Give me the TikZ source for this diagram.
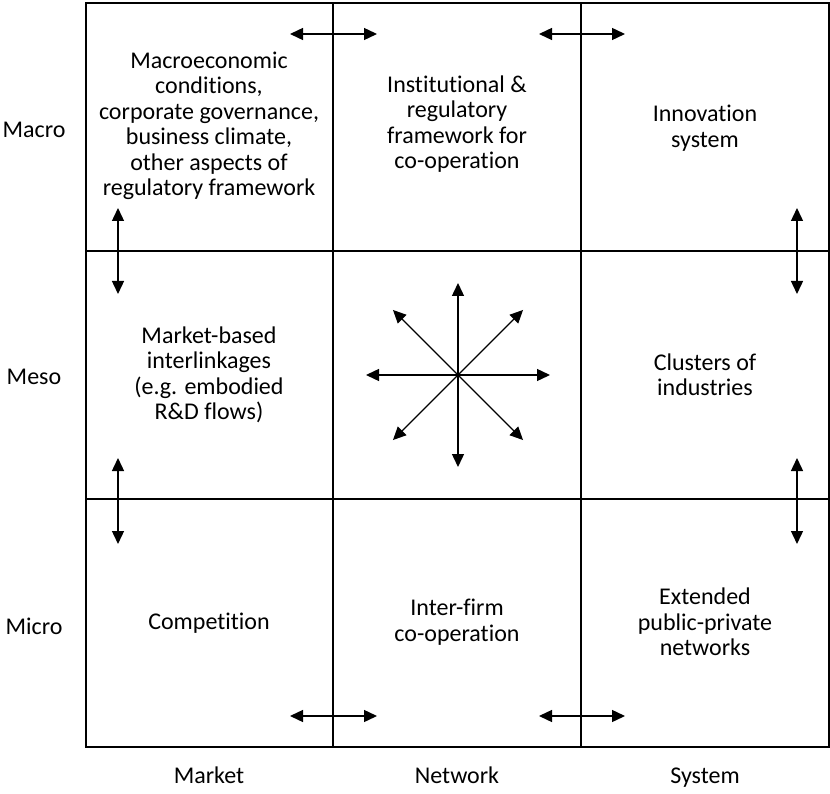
\documentclass[tikz,border=0pt]{standalone}
\usepackage{fontspec}
\setmainfont{Carlito}[Ligatures=CommonOff]
\usetikzlibrary{arrows.meta}
\begin{document}
\begin{tikzpicture}[x=1pt,y=-1pt,
  grid/.style={line width=2pt},
  dbl/.style={line width=1.4pt,{Triangle[length=13pt,width=12pt]}-{Triangle[length=13pt,width=12pt]}},
  one/.style={line width=1.4pt,-{Triangle[length=13pt,width=12pt]}},
  celltext/.style={align=center,font=\fontsize{24}{25.5}\selectfont,inner sep=0pt},
  axis/.style={font=\fontsize{24}{25.5}\selectfont,inner sep=0pt}]
\useasboundingbox (0,0) rectangle (830,794);
% grid
\draw[grid] (86,3) rectangle (829,747);
\draw[grid] (333,3) -- (333,747);
\draw[grid] (581,3) -- (581,747);
\draw[grid] (86,251) -- (829,251);
\draw[grid] (86,499) -- (829,499);
% row labels
\node[axis] (macro) at (34,130) {Macro};
\node[axis] (meso) at (34,377) {Meso};
\node[axis] (micro) at (34,626) {Micro};
% column labels
\node[axis,anchor=base] (market) at (209,783) {Market};
\node[axis,anchor=base] (network) at (457,783) {Network};
\node[axis,anchor=base] (system) at (705,783) {System};
% cell texts
\node[celltext] (c11) at (209,126) {Macroeconomic\\conditions,\\corporate governance,\\business climate,\\other aspects of\\regulatory framework};
\node[celltext] (c12) at (457,124) {Institutional \&\\regulatory\\framework for\\co-operation};
\node[celltext] (c13) at (705,128) {Innovation\\system};
\node[celltext] (c21) at (209,375) {Market-based\\interlinkages\\(e.g. embodied\\R\&D flows)};
\node[celltext] (c23) at (705,375) {Clusters of\\industries};
\node[celltext] (c31) at (209,623) {Competition};
\node[celltext] (c32) at (457,622) {Inter-firm\\co-operation};
\node[celltext] (c33) at (705,622) {Extended\\public-private\\networks};
% horizontal double arrows
\coordinate (ha1) at (290,34); \coordinate (hb1) at (377,34);
\coordinate (ha2) at (539,34); \coordinate (hb2) at (625,34);
\coordinate (ha3) at (290,716); \coordinate (hb3) at (377,716);
\coordinate (ha4) at (539,716); \coordinate (hb4) at (625,716);
\draw[dbl] (ha1) -- (hb1);
\draw[dbl] (ha2) -- (hb2);
\draw[dbl] (ha3) -- (hb3);
\draw[dbl] (ha4) -- (hb4);
% vertical double arrows
\coordinate (va1) at (118,208); \coordinate (vb1) at (118,294);
\coordinate (va2) at (118,458); \coordinate (vb2) at (118,544);
\coordinate (va3) at (797,208); \coordinate (vb3) at (797,294);
\coordinate (va4) at (797,458); \coordinate (vb4) at (797,544);
\draw[dbl] (va1) -- (vb1);
\draw[dbl] (va2) -- (vb2);
\draw[dbl] (va3) -- (vb3);
\draw[dbl] (va4) -- (vb4);
% star
\coordinate (ctr) at (458,375);
\foreach \a in {0,45,...,315} {
  \coordinate (s\a) at ([shift={(\a:92)}]ctr);
  \draw[one] (ctr) -- (s\a);
}
\end{tikzpicture}
\end{document}
